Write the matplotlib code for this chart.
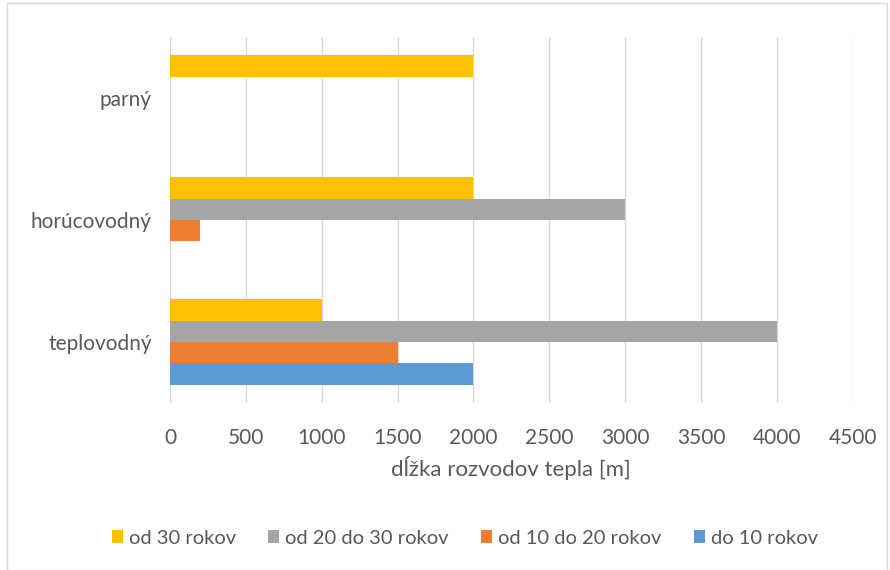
import matplotlib.pyplot as plt
import matplotlib.patches as patches
import numpy as np

plt.rcParams['font.family'] = ['Lato', 'DejaVu Sans']

# data
categories = ['teplovodný', 'horúcovodný', 'parný']
series = ['do 10 rokov', 'od 10 do 20 rokov', 'od 20 do 30 rokov', 'od 30 rokov']
colors = ['#5B9BD5', '#ED7D31', '#A5A5A5', '#FFC000']
values = {
    'do 10 rokov':        [2000, 0, 0],
    'od 10 do 20 rokov':  [1500, 200, 0],
    'od 20 do 30 rokov':  [4000, 3000, 0],
    'od 30 rokov':        [1000, 2000, 2000],
}
xticks = [0, 500, 1000, 1500, 2000, 2500, 3000, 3500, 4000, 4500]

txt = '#595959'

fig = plt.figure(figsize=(8.9, 5.7), dpi=100)
ax = fig.add_axes([0.191, 0.293, 0.767, 0.642])

# chart border
fig.patches.append(patches.Rectangle((0.008, 0.0), 0.989, 0.994, transform=fig.transFigure,
                                     fill=False, edgecolor='#D9D9D9', linewidth=1))

y = np.arange(len(categories))
h = 0.176
for i, s in enumerate(series):
    offs = (i - 1.5) * h
    ax.barh(y + offs, values[s], height=h, color=colors[i], label=s, zorder=3)

ax.set_xlim(0, 4500)
ax.set_ylim(-0.5, 2.5)
ax.set_xticks(xticks)
ax.set_xticklabels([str(t) for t in xticks])
ax.set_yticks(y)
ax.set_yticklabels(categories)
ax.xaxis.grid(True, color='#D9D9D9', linewidth=1, zorder=0)
for sp in ax.spines.values():
    sp.set_visible(False)
ax.tick_params(axis='x', length=0, pad=18, labelsize=15, labelcolor=txt)
ax.tick_params(axis='y', length=0, pad=13, labelsize=15, labelcolor=txt)
ax.set_xlabel('dĺžka rozvodov tepla [m]', fontsize=16, color=txt, labelpad=6)

handles, labels = ax.get_legend_handles_labels()
fig.legend(handles[::-1], labels[::-1], loc='center', bbox_to_anchor=(0.522, 0.056),
           ncol=4, frameon=False, fontsize=14.5, labelcolor=txt,
           handlelength=0.55, handleheight=0.55, handletextpad=0.3, columnspacing=1.6)

fig.savefig('out.png', dpi=100)
